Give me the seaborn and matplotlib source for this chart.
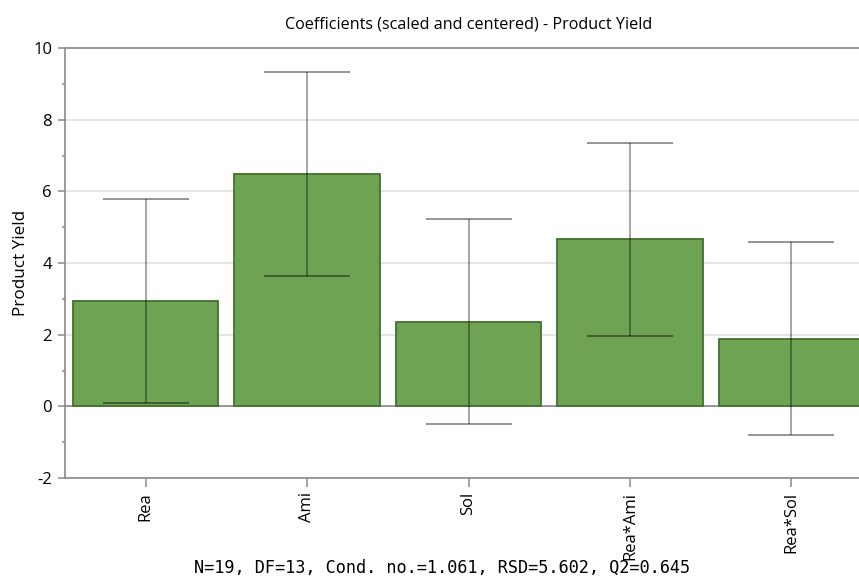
import matplotlib
matplotlib.use("Agg")
import matplotlib.pyplot as plt
import seaborn as sns
import pandas as pd
from matplotlib.ticker import MultipleLocator

terms = ["Rea", "Ami", "Sol", "Rea*Ami", "Rea*Sol"]
coefficients = [2.94, 6.48, 2.36, 4.66, 1.89]
conf_int = [2.85, 2.85, 2.86, 2.69, 2.69]
stats_line = "N=19, DF=13, Cond. no.=1.061, RSD=5.602, Q2=0.645"
title = "Coefficients (scaled and centered) - Product Yield"
y_label = "Product Yield"

sns.set_style("white")
plt.rcParams["font.family"] = ["Open Sans", "DejaVu Sans"]
plt.rcParams["axes.unicode_minus"] = False
plt.rcParams["text.color"] = "black"
plt.rcParams["axes.labelcolor"] = "black"
plt.rcParams["xtick.color"] = "black"
plt.rcParams["ytick.color"] = "black"

df = pd.DataFrame({"term": terms, "coef": coefficients})

fig = plt.figure(figsize=(8.59, 5.8), dpi=100)
ax = fig.add_axes([65 / 859, 1 - 478 / 580, 807 / 859, 430 / 580])

sns.barplot(data=df, x="term", y="coef", ax=ax, color="#6ea354",
            saturation=1, width=0.9, edgecolor="#45702f", linewidth=1.3,
            errorbar=None, zorder=2)

ax.errorbar(range(len(terms)), coefficients, yerr=conf_int, fmt="none",
            ecolor="#000000", alpha=0.45, elinewidth=1.1, capsize=31,
            capthick=1.3, zorder=3)

ax.set_xlim(-0.5, len(terms) - 0.5)
ax.set_ylim(-2, 10)
ax.yaxis.set_major_locator(MultipleLocator(2))
ax.yaxis.set_minor_locator(MultipleLocator(1))
ax.grid(axis="y", which="major", color="#e2e2e2", linewidth=1.2, zorder=0)
ax.set_axisbelow(True)
ax.axhline(0, color="#8a8a8a", linewidth=1.2, zorder=1)

for side in ["left", "bottom", "top"]:
    ax.spines[side].set_color("#8a8a8a")
    ax.spines[side].set_linewidth(1.2)
ax.spines["right"].set_visible(False)

ax.tick_params(axis="y", which="major", left=True, length=5, width=1.1,
               color="#8a8a8a", labelcolor="black", labelsize=12, pad=4.3)
ax.tick_params(axis="y", which="minor", left=True, length=2.2, width=1.1,
               color="#8a8a8a")
ax.tick_params(axis="x", bottom=True, length=6.5, width=1.1, color="#8a8a8a",
               labelcolor="black", labelsize=12, pad=3.5)
for lbl in ax.get_xticklabels():
    lbl.set_rotation(90)

ax.set_xlabel("")
ax.set_ylabel(y_label, fontsize=12.3, labelpad=3, color="black")
ax.set_title(title, fontsize=11.6, pad=14, color="black")

fig.text(442 / 859, 1 - 568 / 580, stats_line, ha="center", va="center",
         family="DejaVu Sans Mono", fontsize=12.2, color="black")

fig.savefig("out.png", dpi=100)
